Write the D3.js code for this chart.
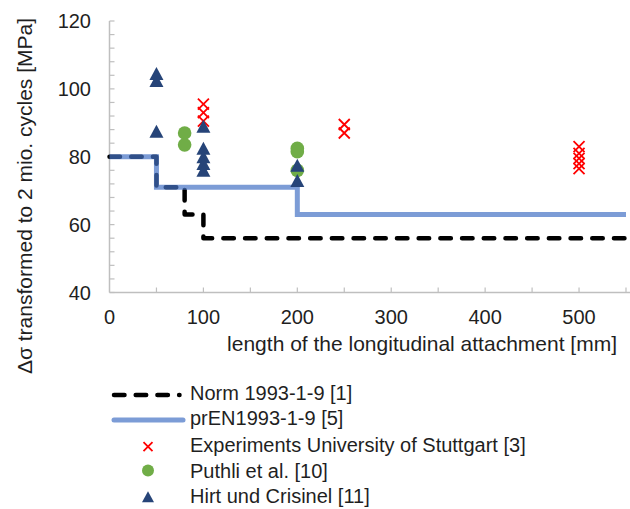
<!DOCTYPE html>
<html>
<head>
<meta charset="utf-8">
<script src="https://cdn.jsdelivr.net/npm/d3@7"></script>
<style>
  html, body { margin: 0; padding: 0; background: #fff; }
  svg { display: block; }
  text { font-family: "Liberation Sans", Arial, sans-serif; fill: #1f1f1f; }
</style>
</head>
<body>
<svg id="chart" width="630" height="509"></svg>
<script>
// ---- data ----
const normX = [0, 50, 50, 80, 80, 100, 100, 550];
const normY = [80, 80, 71, 71, 63, 63, 56, 56];
const prenX = [0, 50, 50, 200, 200, 550];
const prenY = [80, 80, 71, 71, 63, 63];
const expX = [100, 100, 100, 250, 250, 500, 500, 500, 500, 500];
const expY = [95.5, 93, 90.5, 89.5, 87, 83, 81, 79.5, 78, 76.5];
const puthliX = [80, 80, 200, 200, 200];
const puthliY = [87, 83.5, 82.5, 81.5, 76];
const hirtX = [50, 50, 50, 100, 100, 100, 100, 100, 200, 200];
const hirtY = [104.5, 102.5, 87.5, 89, 82.5, 80, 78, 76, 77.5, 73];
const xTicks = [0, 100, 200, 300, 400, 500];
const yTicks = [40, 60, 80, 100, 120];
const legendLabels = ["Norm 1993-1-9 [1]", "prEN1993-1-9 [5]", "Experiments University of Stuttgart [3]", "Puthli et al. [10]", "Hirt und Crisinel [11]"];
const yTitle = "Δσ transformed to 2 mio. cycles [MPa]";
const xTitle = "length of the longitudinal attachment [mm]";

// ---- chart ----
const svg = d3.select("#chart");
const x = d3.scaleLinear().domain([0, 550]).range([109.5, 626]);
const y = d3.scaleLinear().domain([40, 120]).range([292.5, 21]);

const axisColor = "#BFBFBF";
const blue = "#4472C4", navy = "#264478", green = "#70AD47", red = "#FF0000";

// axes lines
const axG = svg.append("g");
axG.append("line").attr("x1", x(0)).attr("x2", x(0)).attr("y1", y(120)).attr("y2", y(40))
  .attr("stroke", axisColor).attr("stroke-width", 1.5);
axG.append("line").attr("x1", x(0)).attr("x2", 630).attr("y1", y(40)).attr("y2", y(40))
  .attr("stroke", axisColor).attr("stroke-width", 1.5);
// y ticks (inside) every 4
axG.selectAll(".yt").data(d3.range(40, 120.1, 4)).join("line")
  .attr("x1", x(0)).attr("x2", x(0) + 5).attr("y1", d => y(d)).attr("y2", d => y(d))
  .attr("stroke", axisColor).attr("stroke-width", 1.2);
// x ticks (inside) every 50
axG.selectAll(".xt").data(d3.range(50, 551, 50)).join("line")
  .attr("x1", d => x(d)).attr("x2", d => x(d)).attr("y1", y(40)).attr("y2", y(40) - 5)
  .attr("stroke", axisColor).attr("stroke-width", 1.2);

// tick labels
svg.selectAll(".ylab").data(yTicks).join("text")
  .attr("x", 91).attr("y", d => y(d)).attr("dy", "0.36em")
  .attr("text-anchor", "end").attr("font-size", 20).text(d => d);
svg.selectAll(".xlab").data(xTicks).join("text")
  .attr("x", d => x(d)).attr("y", 324)
  .attr("text-anchor", "middle").attr("font-size", 20).text(d => d);

// titles
svg.append("text").attr("transform", "translate(32,196) rotate(-90)")
  .attr("text-anchor", "middle").attr("font-size", 21).text(yTitle);
svg.append("text").attr("x", 617).attr("y", 350.5)
  .attr("text-anchor", "end").attr("font-size", 21).text(xTitle);

// lines
const line = d3.line().x(d => x(d[0])).y(d => y(d[1]));
const normPts = normX.map((v, i) => [v, normY[i]]);
const prenPts = prenX.map((v, i) => [v, prenY[i]]);
svg.append("path").attr("d", line(normPts)).attr("fill", "none")
  .attr("stroke", "#000").attr("stroke-width", 4.5)
  .attr("stroke-dasharray", "10.5 11.2").attr("stroke-linecap", "round").attr("stroke-linejoin", "round");
svg.append("path").attr("d", line(prenPts)).attr("fill", "none")
  .attr("stroke", blue).attr("stroke-opacity", 0.7).attr("stroke-width", 5);

// markers
function crossPath(cx, cy, s) {
  return `M${cx - s},${cy - s}L${cx + s},${cy + s}M${cx - s},${cy + s}L${cx + s},${cy - s}`;
}
function triPath(cx, cy, w, h) {
  return `M${cx},${cy - h / 2}L${cx + w / 2},${cy + h / 2}L${cx - w / 2},${cy + h / 2}Z`;
}
svg.append("g").selectAll("path").data(expX.map((v, i) => [v, expY[i]])).join("path")
  .attr("d", d => crossPath(x(d[0]), y(d[1]), 5.5))
  .attr("stroke", red).attr("stroke-width", 1.8).attr("fill", "none");
svg.append("g").selectAll("circle").data(puthliX.map((v, i) => [v, puthliY[i]])).join("circle")
  .attr("cx", d => x(d[0])).attr("cy", d => y(d[1])).attr("r", 6.8).attr("fill", green);
svg.append("g").selectAll("path").data(hirtX.map((v, i) => [v, hirtY[i]])).join("path")
  .attr("d", d => triPath(x(d[0]), y(d[1]), 14, 13)).attr("fill", navy);

// legend
const legLineY = [395, 420, 446.7, 470.5, 496.7];
const legTextY = [400, 425, 451.7, 478, 503.3];
const lg = svg.append("g");
lg.append("line").attr("x1", 114).attr("x2", 179.5).attr("y1", legLineY[0]).attr("y2", legLineY[0])
  .attr("stroke", "#000").attr("stroke-width", 4.5).attr("stroke-dasharray", "10.5 11.2").attr("stroke-linecap", "round");
lg.append("line").attr("x1", 114).attr("x2", 183).attr("y1", legLineY[1]).attr("y2", legLineY[1])
  .attr("stroke", blue).attr("stroke-opacity", 0.7).attr("stroke-width", 5).attr("stroke-linecap", "round");
lg.append("path").attr("d", crossPath(148, legLineY[2], 4.5)).attr("stroke", red).attr("stroke-width", 1.8);
lg.append("circle").attr("cx", 148).attr("cy", legLineY[3]).attr("r", 6).attr("fill", green);
lg.append("path").attr("d", triPath(148, legLineY[4], 12, 11)).attr("fill", navy);
lg.selectAll("text").data(legendLabels).join("text")
  .attr("x", 190).attr("y", (d, i) => legTextY[i])
  .attr("font-size", 20).text(d => d);
</script>
</body>
</html>
